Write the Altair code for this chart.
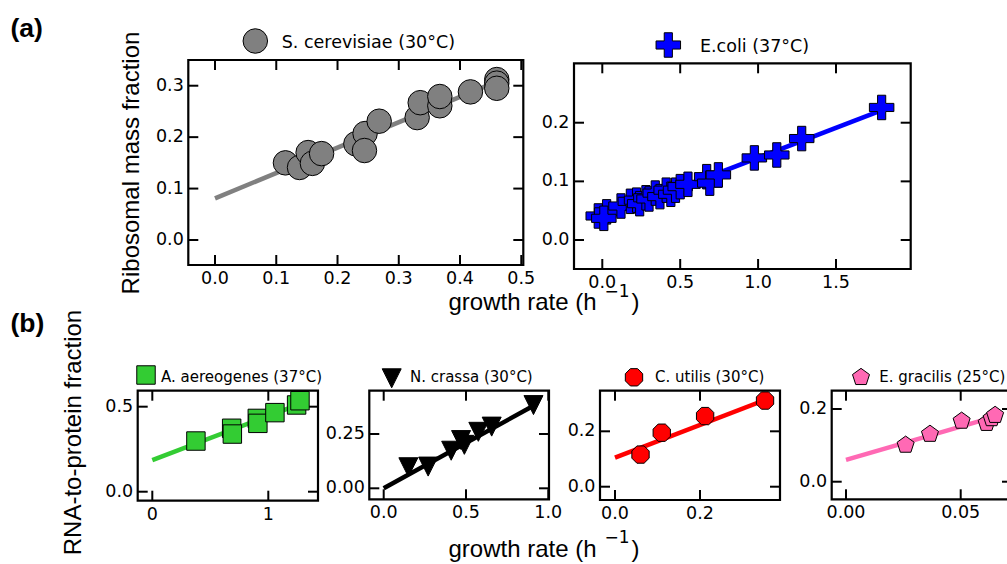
import altair as alt
import pandas as pd

# ---------------- values ----------------
# (a) S. cerevisiae (30°C)
sc_x = [0.115, 0.138, 0.152, 0.159, 0.174, 0.230, 0.245, 0.244, 0.268, 0.330, 0.335, 0.367, 0.367, 0.417, 0.460, 0.460, 0.460]
sc_y = [0.150, 0.141, 0.170, 0.149, 0.168, 0.187, 0.207, 0.174, 0.231, 0.238, 0.267, 0.261, 0.279, 0.288, 0.312, 0.305, 0.295]
sc_fit_x = [0.0, 0.46]
sc_fit_y = [0.081, 0.308]

# (a) E.coli (37°C)
ec_x = [-0.026, 0.028, 0.010, 0.120, 0.180, 0.220, 0.240, 0.280, 0.300, 0.340, 0.370, 0.410, 0.440, 0.470, 0.500, 0.550, 0.670, 0.690, 0.745, 0.976, 1.120, 1.280, 1.793]
ec_y = [0.041, 0.048, 0.037, 0.058, 0.066, 0.068, 0.062, 0.072, 0.070, 0.080, 0.074, 0.085, 0.078, 0.085, 0.091, 0.095, 0.108, 0.097, 0.111, 0.140, 0.145, 0.173, 0.226]
ec_fit_x = [-0.02, 1.80]
ec_fit_y = [0.036, 0.222]

# (b) A. aereogenes (37°C)
aa_x = [0.376, 0.684, 0.690, 0.905, 0.910, 1.057, 1.244, 1.273]
aa_y = [0.298, 0.373, 0.339, 0.431, 0.402, 0.465, 0.510, 0.535]
aa_fit_x = [0.0, 1.27]
aa_fit_y = [0.186, 0.515]

# (b) N. crassa (30°C)
nc_x = [0.150, 0.270, 0.410, 0.470, 0.490, 0.575, 0.656, 0.910]
nc_y = [0.097, 0.100, 0.173, 0.222, 0.200, 0.260, 0.284, 0.383]
nc_fit_x = [0.0, 0.91]
nc_fit_y = [0.0, 0.38]

# (b) C. utilis (30°C)
cu_x = [0.060, 0.110, 0.212, 0.353]
cu_y = [0.116, 0.195, 0.255, 0.311]
cu_fit_x = [0.0, 0.353]
cu_fit_y = [0.105, 0.313]

# (b) E. gracilis (25°C)
eg_x = [0.0260, 0.0366, 0.0504, 0.0613, 0.0635, 0.0650]
eg_y = [0.101, 0.131, 0.167, 0.161, 0.174, 0.183]
eg_fit_x = [0.0, 0.065]
eg_fit_y = [0.060, 0.179]

# axis limits (view limits of each panel) and tick values
a1_xlim, a1_ylim = [-0.0436, 0.5033], [-0.0486, 0.350]
a2_xlim, a2_ylim = [-0.1816, 1.9795], [-0.0494, 0.3013]
b1_xlim, b1_ylim = [-0.1259, 1.4284], [-0.0529, 0.594]
b2_xlim, b2_ylim = [-0.0875, 1.0043], [-0.0506, 0.4493]
b3_xlim, b3_ylim = [-0.0353, 0.3882], [-0.048, 0.3466]
b4_xlim, b4_ylim = [-0.00623, 0.07236], [-0.0484, 0.2504]

a1_xt = [0.0, 0.1, 0.2, 0.3, 0.4, 0.5]
a1_yt = [0.0, 0.1, 0.2, 0.3]
a2_xt = [0.0, 0.5, 1.0, 1.5]
a2_yt = [0.0, 0.1, 0.2]
b1_xt = [0, 1]
b1_yt = [0.0, 0.5]
b2_xt = [0.0, 0.5, 1.0]
b2_yt = [0.0, 0.25]
b3_xt = [0.0, 0.2]
b3_yt = [0.0, 0.2]
b4_xt = [0.0, 0.05]
b4_yt = [0.0, 0.2]

# text
label_a = "(a)"
label_b = "(b)"
ylab_a = "Ribosomal mass fraction"
ylab_b = "RNA-to-protein fraction"
xlab_main = "growth rate (h"
xlab_sup = "\u22121"
xlab_end = ")"

# ---------------- styling / layout (pixels) ----------------
TICK = 10
FRAME = 2.2
LABEL_FONT = "DejaVu Sans"
TITLE_FONT = "Liberation Sans"
TICK_FS = 17.5

PLUS = "M-0.333,-1L0.333,-1L0.333,-0.333L1,-0.333L1,0.333L0.333,0.333L0.333,1L-0.333,1L-0.333,0.333L-1,0.333L-1,-0.333L-0.333,-0.333Z"
TRI_DOWN = "M-1,-1L1,-1L0,1Z"
OCTAGON = "M1,0.414L0.414,1L-0.414,1L-1,0.414L-1,-0.414L-0.414,-1L0.414,-1L1,-0.414Z"
PENTAGON = "M0,-1L0.951,-0.309L0.588,0.809L-0.588,0.809L-0.951,-0.309Z"


def one(t):
    return pd.DataFrame({"t": [t]})


def panel(px, py, fx, fy, color, shape, size, xlim, ylim, xt, yt, xfmt, yfmt,
          box, legend, sym_pos, txt_pos, leg_fs):
    left, top, right, bottom = box
    xs = alt.Scale(domain=xlim, range=[left, right], nice=False, zero=False)
    ys = alt.Scale(domain=ylim, range=[bottom, top], nice=False, zero=False)

    def X(f):
        return alt.X(f, type="quantitative", scale=xs, axis=None)

    def Y(f):
        return alt.Y(f, type="quantitative", scale=ys, axis=None)

    lay = []
    lay.append(alt.Chart(pd.DataFrame({"gx": fx, "gy": fy})).mark_line(
        color=color, strokeWidth=4.5).encode(x=X("gx"), y=Y("gy")))
    box_df = pd.DataFrame({"x0": [xlim[0]], "x1": [xlim[1]], "y0": [ylim[0]], "y1": [ylim[1]]})
    lay.append(alt.Chart(box_df).mark_rect(filled=False, color="black", strokeWidth=FRAME).encode(
        x=X("x0"), x2="x1", y=Y("y0"), y2="y1"))
    tk = dict(color="black", size=TICK, thickness=2, opacity=1)
    xb = pd.DataFrame({"v": xt, "e": [ylim[0]] * len(xt), "f": [ylim[1]] * len(xt)})
    yb = pd.DataFrame({"v": yt, "e": [xlim[0]] * len(yt), "f": [xlim[1]] * len(yt)})
    lay.append(alt.Chart(xb).mark_tick(orient="vertical", yOffset=-TICK / 2, **tk).encode(x=X("v"), y=Y("e")))
    lay.append(alt.Chart(xb).mark_tick(orient="vertical", yOffset=TICK / 2, **tk).encode(x=X("v"), y=Y("f")))
    lay.append(alt.Chart(yb).mark_tick(orient="horizontal", xOffset=TICK / 2, **tk).encode(x=X("e"), y=Y("v")))
    lay.append(alt.Chart(yb).mark_tick(orient="horizontal", xOffset=-TICK / 2, **tk).encode(x=X("f"), y=Y("v")))
    lay.append(alt.Chart(xb).mark_text(baseline="top", align="center", dy=5, font=LABEL_FONT,
                                       fontSize=TICK_FS, color="black").encode(
        x=X("v"), y=Y("e"), text=alt.Text("v:Q", format=xfmt)))
    lay.append(alt.Chart(yb).mark_text(baseline="middle", align="right", dx=-4.5, font=LABEL_FONT,
                                       fontSize=TICK_FS, color="black").encode(
        x=X("e"), y=Y("v"), text=alt.Text("v:Q", format=yfmt)))
    mk = dict(shape=shape, size=size, filled=True, fill=color, stroke="black", strokeWidth=1, opacity=1)
    lay.append(alt.Chart(pd.DataFrame({"gx": px, "gy": py})).mark_point(**mk).encode(x=X("gx"), y=Y("gy")))
    lay.append(alt.Chart(one(legend)).mark_point(**mk).encode(x=alt.value(sym_pos[0]), y=alt.value(sym_pos[1])))
    lay.append(alt.Chart(one(legend)).mark_text(
        align="left", baseline="alphabetic", font=LABEL_FONT, fontSize=leg_fs, color="black").encode(
        x=alt.value(txt_pos[0]), y=alt.value(txt_pos[1]), text="t:N"))
    return lay


def txt(t, x, y, size, angle=0, bold=False, align="left", font=TITLE_FONT):
    kw = dict(align=align, baseline="alphabetic", font=font, fontSize=size, color="black")
    if angle:
        kw["angle"] = angle
    if bold:
        kw["fontWeight"] = "bold"
    return alt.Chart(one(t)).mark_text(**kw).encode(x=alt.value(x), y=alt.value(y), text="t:N")


layers = []
layers += panel(sc_x, sc_y, sc_fit_x, sc_fit_y, "#808080", "circle", 600, a1_xlim, a1_ylim,
                a1_xt, a1_yt, ".1f", ".1f", (188.3, 60, 523.3, 265),
                "S. cerevisiae (30°C)", (255.3, 41), (281.7, 48.3), 17.5)
layers += panel(ec_x, ec_y, ec_fit_x, ec_fit_y, "#0000FF", PLUS, 600, a2_xlim, a2_ylim,
                a2_xt, a2_yt, ".1f", ".1f", (574, 63.3, 910.7, 269),
                "E.coli (37°C)", (668.3, 45), (700, 51.7), 17.5)
layers += panel(aa_x, aa_y, aa_fit_x, aa_fit_y, "#33CC33", "square", 340, b1_xlim, b1_ylim,
                b1_xt, b1_yt, "d", ".1f", (137.7, 390.7, 318, 500.7),
                "A. aereogenes (37°C)", (146, 375), (161, 381.7), 15)
layers += panel(nc_x, nc_y, nc_fit_x, nc_fit_y, "black", TRI_DOWN, 361, b2_xlim, b2_ylim,
                b2_xt, b2_yt, ".1f", ".2f", (369.3, 390.7, 549, 499.3),
                "N. crassa (30°C)", (391.7, 378.3), (410, 381.7), 15)
layers += panel(cu_x, cu_y, cu_fit_x, cu_fit_y, "#FF0000", OCTAGON, 300, b3_xlim, b3_ylim,
                b3_xt, b3_yt, ".1f", ".1f", (600, 390.7, 780, 500),
                "C. utilis (30°C)", (634, 377.3), (655, 381.7), 15)
layers += panel(eg_x, eg_y, eg_fit_x, eg_fit_y, "#FF69B4", PENTAGON, 320, b4_xlim, b4_ylim,
                b4_xt, b4_yt, ".2f", ".1f", (831.7, 390.7, 1012, 499.3),
                "E. gracilis (25°C)", (861, 377.3), (879.3, 381.7), 15)

layers += [
    txt(label_a, 10.5, 36.5, 26.5, bold=True),
    txt(label_b, 10.5, 331.5, 26.5, bold=True),
    txt(ylab_a, 138.5, 163, 24, angle=270, align="center"),
    txt(ylab_b, 80.5, 432.5, 24, angle=270, align="center"),
    txt(xlab_main, 448.5, 310, 24),
    txt(xlab_sup, 604.5, 296.5, 17, font=LABEL_FONT),
    txt(xlab_end, 631.5, 310, 24),
    txt(xlab_main, 448.5, 556.5, 24),
    txt(xlab_sup, 604.5, 543, 17, font=LABEL_FONT),
    txt(xlab_end, 631.5, 556.5, 24),
]

chart = alt.layer(*layers).resolve_scale(x="independent", y="independent").properties(
    width=1007, height=564, padding=0, background="white",
    autosize=alt.AutoSizeParams(type="none", contains="padding"),
).configure_view(stroke="transparent", strokeWidth=0)

chart.save("out.html", embed_options={"renderer": "svg", "actions": False})
